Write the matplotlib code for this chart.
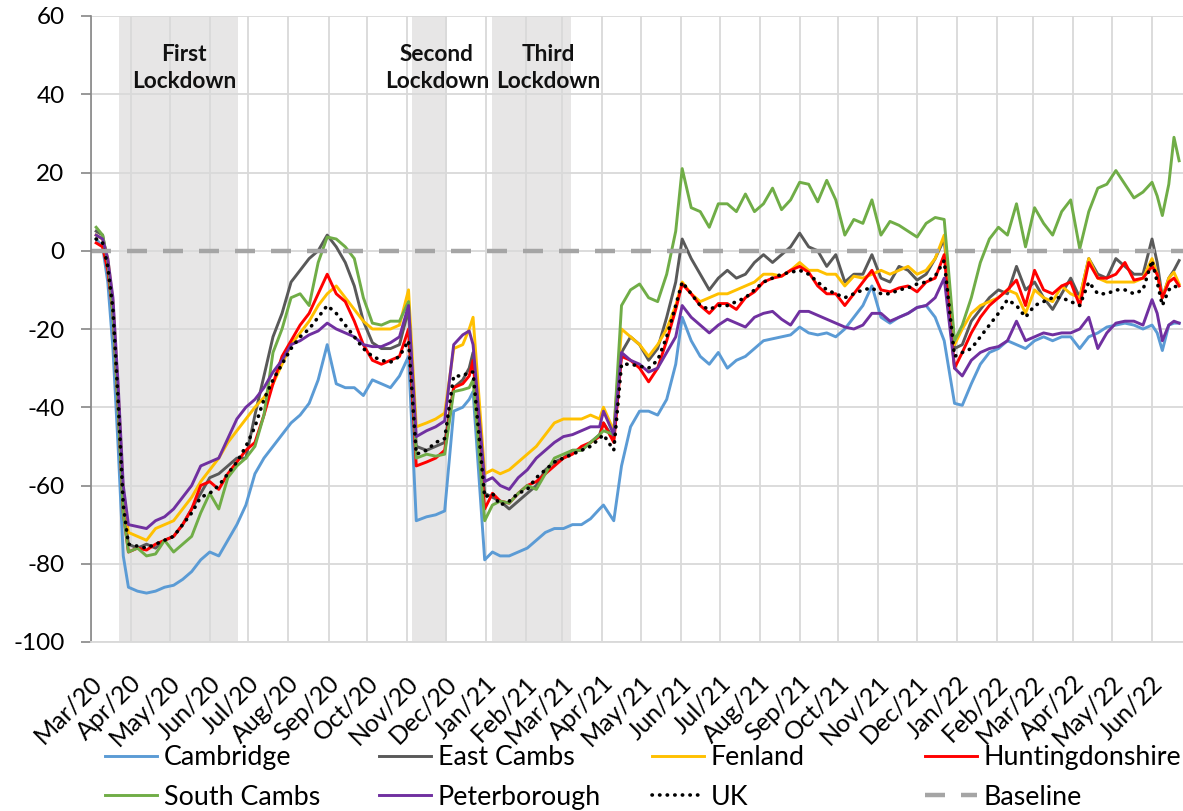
import matplotlib
matplotlib.use("Agg")
import matplotlib.pyplot as plt
import matplotlib.transforms as mtransforms
import pandas as pd

plt.rcParams['font.family'] = ['Lato', 'DejaVu Sans']
plt.rcParams['axes.unicode_minus'] = False

# sample dates (roughly weekly, denser around the sharp changes)
dates = pd.to_datetime([
    "2020-03-05", "2020-03-10", "2020-03-14", "2020-03-18", "2020-03-22", "2020-03-26", "2020-03-30", "2020-04-06", "2020-04-13", "2020-04-20",
    "2020-04-27", "2020-05-04", "2020-05-11", "2020-05-18", "2020-05-25", "2020-06-01", "2020-06-08", "2020-06-15", "2020-06-22", "2020-06-29",
    "2020-07-06", "2020-07-13", "2020-07-20", "2020-07-27", "2020-08-03", "2020-08-10", "2020-08-17", "2020-08-24", "2020-08-31", "2020-09-07",
    "2020-09-14", "2020-09-21", "2020-09-28", "2020-10-05", "2020-10-12", "2020-10-19", "2020-10-26", "2020-11-02", "2020-11-08", "2020-11-16",
    "2020-11-23", "2020-11-30", "2020-12-07", "2020-12-14", "2020-12-19", "2020-12-22", "2020-12-31", "2021-01-06", "2021-01-12", "2021-01-19",
    "2021-01-26", "2021-02-02", "2021-02-09", "2021-02-16", "2021-02-23", "2021-03-02", "2021-03-09", "2021-03-16", "2021-03-23", "2021-03-30",
    "2021-04-02", "2021-04-10", "2021-04-16", "2021-04-23", "2021-04-30", "2021-05-07", "2021-05-14", "2021-05-21", "2021-05-28", "2021-06-02",
    "2021-06-09", "2021-06-16", "2021-06-23", "2021-06-30", "2021-07-07", "2021-07-14", "2021-07-21", "2021-07-28", "2021-08-04", "2021-08-11",
    "2021-08-18", "2021-08-25", "2021-09-01", "2021-09-08", "2021-09-15", "2021-09-22", "2021-09-29", "2021-10-06", "2021-10-13", "2021-10-20",
    "2021-10-27", "2021-11-03", "2021-11-10", "2021-11-17", "2021-11-24", "2021-12-01", "2021-12-08", "2021-12-15", "2021-12-22", "2021-12-30",
    "2022-01-05", "2022-01-12", "2022-01-19", "2022-01-26", "2022-02-02", "2022-02-09", "2022-02-16", "2022-02-23", "2022-03-02", "2022-03-09",
    "2022-03-16", "2022-03-23", "2022-03-30", "2022-04-06", "2022-04-13", "2022-04-20", "2022-04-27", "2022-05-04", "2022-05-11", "2022-05-18",
    "2022-05-25", "2022-06-01", "2022-06-05", "2022-06-09", "2022-06-14", "2022-06-18", "2022-06-22",
])

cambridge = [
    3, 1, -8, -25, -50, -78, -86, -87, -87.5, -87,
    -86, -85.5, -84, -82, -79, -77, -78, -74, -70, -65,
    -57, -53, -50, -47, -44, -42, -39, -33, -24, -34,
    -35, -35, -37, -33, -34, -35, -32, -27, -69, -68,
    -67.5, -66.5, -41, -40, -38, -36, -79, -77, -78, -78,
    -77, -76, -74, -72, -71, -71, -70, -70, -68.5, -66,
    -65, -69, -55, -45, -41, -41, -42, -38, -29, -17,
    -23, -27, -29, -26, -30, -28, -27, -25, -23, -22.5,
    -22, -21.5, -19.5, -21, -21.5, -21, -22, -20, -17, -14,
    -9, -17, -18.5, -17, -16, -14.5, -14, -17, -23, -39,
    -39.5, -34, -29, -26, -25, -23, -24, -25, -23, -22,
    -23, -22, -22, -25, -22, -21, -19.5, -19, -18.5, -19,
    -20, -19, -21, -25.5, -19, -18.5, -18.5,
]
east_cambs = [
    5, 4, -3, -15, -38, -65, -75, -76, -75, -76,
    -74, -73, -70, -66, -62, -58, -57, -55, -53, -53,
    -42, -32, -22, -16, -8, -5, -2, 0, 4, 1,
    -3, -9, -18, -23.5, -25, -25, -24, -15, -50, -51,
    -50, -49, -35, -33, -30, -26, -62, -63, -64, -66,
    -64, -62, -60, -56, -54, -53, -51, -51, -49, -47,
    -44, -48, -26, -22, -24, -28, -25, -17, -8, 3,
    -2, -6, -10, -7, -5, -7, -6, -3, -1, -3,
    -1, 1, 4.5, 1, 0, -4, -1, -8, -6, -6,
    -1, -7, -8, -4, -5, -7.5, -6, -2, 3, -25,
    -24, -18, -15, -12, -10, -11, -4, -10, -8, -12,
    -15, -11, -7, -12, -2, -6, -7, -2, -4, -6,
    -6, 3, -3, -12, -7, -5, -2.5,
]
fenland = [
    4, 3, -2, -13, -36, -62, -72, -73, -74, -71,
    -70, -69, -66, -63, -59, -56, -53, -49, -46, -43,
    -40, -37.5, -34, -29, -24, -21, -18, -14, -11, -9,
    -12, -15, -18, -20, -20, -20, -19, -10, -45, -44,
    -43, -41.5, -25, -24, -20, -17, -57, -56, -57, -56,
    -54, -52, -50, -47, -44, -43, -43, -43, -42, -43,
    -40, -46, -20, -22, -24, -27, -24, -20, -14, -8,
    -11, -13, -12, -11, -11, -10, -9, -8, -6, -6,
    -6.5, -5, -3, -5, -5, -6, -6, -9, -6.5, -7,
    -6, -5, -6, -5, -4, -6, -5, -2, 4, -24,
    -20, -16, -14, -13, -12, -10, -11, -16, -10, -12,
    -13, -9, -11, -12, -2, -7, -8, -8, -8, -8,
    -7, -2, -6, -12, -7, -5.5, -8.5,
]
huntingdonshire = [
    2, 1, -5, -16, -40, -67, -77, -76, -76.5, -75,
    -74, -73, -70, -66, -60, -59, -61, -57, -54, -51,
    -49, -42, -34, -27, -23, -19, -16, -11, -6, -11,
    -13, -18, -24, -28, -29, -28, -27, -20, -55, -54,
    -53, -51, -35, -34, -32, -28, -66, -62, -64, -64.5,
    -62, -60, -59, -57, -55, -53, -52, -50, -49, -47.5,
    -44, -49, -27, -28, -30, -33.5, -30, -23, -15, -8.5,
    -11, -14, -16, -13.5, -13.5, -15, -12, -10.5, -8, -7,
    -6.5, -5, -4, -5.5, -9, -11, -11, -14, -11, -8,
    -5, -10, -10.5, -9.5, -9, -10.5, -8, -7, -1, -30,
    -26, -21, -17, -14, -12, -10, -7.5, -14, -5, -10,
    -11, -9, -8, -14, -3, -7, -7, -6, -3, -7.5,
    -7, -4, -6, -12, -8, -7, -9,
]
south_cambs = [
    6, 4, -3, -16, -40, -67, -77, -76, -78, -77.5,
    -74, -77, -75, -73, -67, -62, -66, -58, -55, -53,
    -50, -42, -26, -20, -12, -11, -14, -3, 3.5, 3,
    1, -2, -12, -18.5, -19, -18, -18, -13, -53, -52,
    -52.5, -52, -36, -35.5, -35, -33, -69, -65, -64, -64.5,
    -62, -60, -61, -57, -53, -52, -51, -51, -49, -47,
    -46, -47, -14, -10, -8.5, -12, -13, -6, 5, 21,
    11, 10, 6, 12, 12, 10, 14.5, 10, 12, 16,
    10.5, 13, 17.5, 17, 12.5, 18, 13, 4, 8, 7,
    13, 4, 7.5, 6.5, 5, 3.5, 7, 8.5, 8, -23,
    -19, -12, -3, 3, 6, 4, 12, 1, 11, 7,
    4, 10, 13, 0.5, 10, 16, 17, 20.5, 17, 13.5,
    15, 17.5, 14, 9, 17, 29, 23,
]
peterborough = [
    4, 3, -2, -12, -34, -60, -70, -70.5, -71, -69,
    -68, -66, -63, -60, -55, -54, -53, -48, -43, -40,
    -38, -35, -31, -28, -24, -23, -21.5, -20.5, -18.5, -20,
    -21, -22, -24, -24.5, -24.5, -23.5, -22, -14, -47.5, -46,
    -45, -43.5, -24, -21.5, -20.5, -24, -59, -58, -60, -61,
    -58, -56, -53, -51, -49, -47.5, -47, -46, -45, -45,
    -41, -47, -26, -28, -29, -31, -30, -26, -22, -14,
    -17, -19, -21, -19, -17.5, -18.5, -19.5, -17, -16, -15.5,
    -17.5, -19, -15.5, -15.5, -16.5, -17.5, -18.5, -19.5, -20, -19,
    -16, -16, -18, -17, -16, -14.5, -14, -12, -7, -30,
    -32, -28, -26, -25, -24.5, -23, -18, -23, -22, -21,
    -21.5, -21, -21, -20, -17, -25, -21, -18.5, -18, -18,
    -19, -12.5, -16, -23, -19, -18, -18.5,
]
uk = [
    3, 2, -4, -15, -38, -65, -75, -75.5, -76, -75,
    -74, -73, -70, -67, -63, -62, -60, -57, -54, -50,
    -45, -38, -33, -29, -25, -22, -20, -17, -14, -16,
    -19, -22, -25, -27, -28, -28.5, -27, -23, -52, -51,
    -49, -48, -32, -32, -31, -31, -63, -62, -65, -64,
    -62, -61, -58, -56, -54, -53, -52, -51, -50, -48,
    -47, -51, -29, -29, -29.5, -30, -28, -22, -14, -8,
    -11, -14, -15, -14, -14, -13, -12, -10, -8, -7,
    -6, -5.5, -5, -6, -8, -10, -11, -12, -11, -10,
    -9.5, -11, -11, -10, -9.5, -8.5, -8, -6.5, -2.5, -27,
    -26, -25, -22, -19, -16, -12.5, -14, -17, -14, -13,
    -12, -12, -13, -14, -8, -11, -11, -10, -10, -11,
    -10, -2.5, -8, -14, -10, -9, -9.5,
]
baseline = 0

lockdowns = [("2020-03-23", "2020-06-23"), ("2020-11-05", "2020-12-02"), ("2021-01-06", "2021-03-08")]
lockdown_labels = [("2020-05-12", "First\nLockdown"), ("2020-11-24", "Second\nLockdown"), ("2021-02-18", "Third\nLockdown")]

fig = plt.figure(figsize=(11.83, 8.11), dpi=100)
ax = fig.add_axes([91 / 1183, 1 - 642 / 811, 1 - 91 / 1183, (642 - 16) / 811])

for start, end in lockdowns:
    ax.axvspan(pd.Timestamp(start), pd.Timestamp(end), color='#E7E6E6', lw=0, zorder=0.2)

lw = 2.1
l_cam, = ax.plot(dates, cambridge, color='#5B9BD5', lw=lw, label='Cambridge')
l_east, = ax.plot(dates, east_cambs, color='#595959', lw=lw, label='East Cambs')
l_fen, = ax.plot(dates, fenland, color='#FFC000', lw=lw, label='Fenland')
l_hunt, = ax.plot(dates, huntingdonshire, color='#FF0000', lw=lw, label='Huntingdonshire')
l_south, = ax.plot(dates, south_cambs, color='#70AD47', lw=lw, label='South Cambs')
l_peter, = ax.plot(dates, peterborough, color='#7030A0', lw=lw, label='Peterborough')
l_uk, = ax.plot(dates, uk, color='black', lw=2.6, linestyle=(0, (0.1, 2.0)),
                dash_capstyle='round', label='UK')
l_base = ax.axhline(baseline, color='#A5A5A5', lw=3.2, dashes=(4.5, 3.6), label='Baseline')

for x, txt in lockdown_labels:
    ax.text(pd.Timestamp(x), 46.7, txt, ha='center', va='center', fontsize=16.3,
            fontweight='bold', linespacing=1.4, color='#111111')

ax.set_ylim(-100, 60)
ax.set_xlim(pd.Timestamp('2020-03-01'), pd.Timestamp('2022-06-25'))
ax.set_yticks(range(-100, 61, 20))

months = pd.date_range('2020-03-01', '2022-06-01', freq='MS')
ax.set_xticks(months)
ax.set_xticklabels([m.strftime('%b/%y') for m in months], rotation=45, ha='right',
                   va='center', rotation_mode='anchor')

ax.grid(True, color='#D9D9D9', lw=1.3)
ax.set_axisbelow(True)
for s in ['top', 'right']:
    ax.spines[s].set_visible(False)
ax.spines['bottom'].set_color('#D9D9D9')
ax.spines['bottom'].set_linewidth(1.3)
ax.spines['left'].set_color('#868686')
ax.spines['left'].set_linewidth(1.2)

ax.tick_params(axis='y', length=7, width=1.2, color='#868686', labelsize=17.5, pad=12)
ax.tick_params(axis='x', length=0, labelsize=18, pad=27)

shift = mtransforms.ScaledTranslation(7 / 100, 0, fig.dpi_scale_trans)
for lbl in ax.get_xticklabels():
    lbl.set_transform(lbl.get_transform() + shift)

# legend: four columns placed like the Excel legend
columns = [([l_cam, l_south], 105), ([l_east, l_peter], 379), ([l_fen, l_uk], 652), ([l_hunt, l_base], 925)]
for handles, x in columns:
    fig.legend(handles=handles, loc='upper left', bbox_to_anchor=(x / 1183, 1 - 745 / 811),
               frameon=False, fontsize=19.3, handlelength=1.95, handletextpad=0.25,
               labelspacing=0.55, borderpad=0, borderaxespad=0)

fig.savefig('out.png', dpi=100)
